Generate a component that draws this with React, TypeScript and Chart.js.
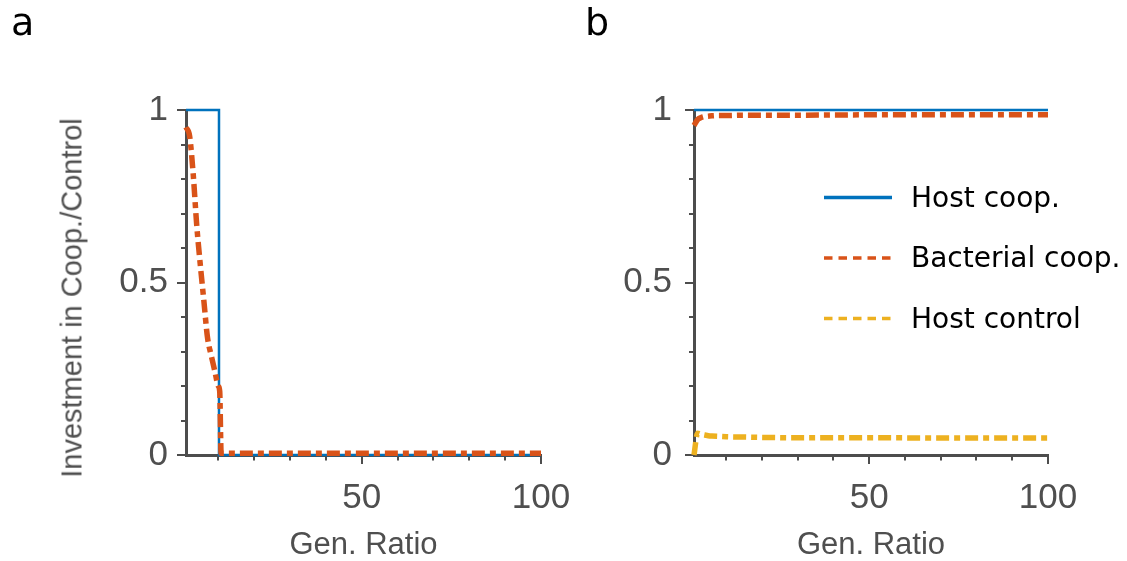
import { useEffect, useRef } from "react";
import { Chart, registerables } from "chart.js";

Chart.register(...registerables);

// Axis ticks and which of them carry a label
const GEN_TICKS = [10, 20, 30, 40, 50, 60, 70, 80, 90, 100];
const GEN_LABELS = [50, 100];
const INVEST_TICKS = [0, 0.1, 0.2, 0.3, 0.4, 0.5, 0.6, 0.7, 0.8, 0.9, 1];
const INVEST_LABELS = [0, 0.5, 1];

const SERIES_NAMES = ["Host coop.", "Bacterial coop.", "Host control"];

// Panel a
const A_HOST_GEN = [1, 10.2, 10.2, 100];
const A_HOST_COOP = [1, 1, 0, 0];
const A_BACT_GEN = [1, 2, 3, 4, 5, 6, 7, 8, 9, 10, 10.4, 10.8, 100];
const A_BACT_COOP = [0.95, 0.925, 0.815, 0.665, 0.55, 0.445, 0.34, 0.29, 0.245, 0.2, 0.185, 0.005, 0.005];

// Panel b
const B_GEN = [1, 2, 3, 4, 5, 6, 8, 10, 15, 20, 30, 50, 75, 100];
const B_HOST_COOP = [1, 1, 1, 1, 1, 1, 1, 1, 1, 1, 1, 1, 1, 1];
const B_BACT_COOP = [0.955, 0.972, 0.978, 0.981, 0.982, 0.983, 0.984, 0.984, 0.985, 0.985, 0.985, 0.986, 0.986, 0.986];
const B_HOST_CONTROL = [0, 0.063, 0.06, 0.058, 0.056, 0.055, 0.054, 0.053, 0.052, 0.051, 0.05, 0.05, 0.049, 0.049];

const BLUE = "#0072BD";
const ORANGE = "#D95319";
const YELLOW = "#EDB120";
const AXIS_COLOR = "#4d4d4d";
const LABEL_COLOR = "#4f4f4f";
const AXIS_FONT = "'Liberation Sans', Arial, sans-serif";
const KEY_FONT = "'DejaVu Sans', Verdana, sans-serif";
const DASH_DOT = [13, 5, 6, 5];

const pts = (xs: number[], ys: number[]) => xs.map((x, i) => ({ x, y: ys[i] }));

// Short and long tick marks drawn outward from the axis lines
const tickMarks = {
  id: "tickMarks",
  beforeDatasetsDraw(chart: any) {
    const { ctx, chartArea, scales } = chart;
    const x = scales.x;
    const y = scales.y;
    ctx.save();
    ctx.strokeStyle = AXIS_COLOR;
    ctx.lineWidth = 2;
    ctx.beginPath();
    for (const t of x.ticks) {
      const px = Math.round(x.getPixelForValue(t.value));
      const len = GEN_LABELS.includes(t.value) ? 9 : 5.5;
      ctx.moveTo(px, chartArea.bottom);
      ctx.lineTo(px, chartArea.bottom + len);
    }
    for (const t of y.ticks) {
      const py = Math.round(y.getPixelForValue(t.value));
      const len = INVEST_LABELS.includes(t.value) ? 9 : 5;
      ctx.moveTo(chartArea.left, py);
      ctx.lineTo(chartArea.left - len, py);
    }
    ctx.stroke();
    ctx.restore();
  },
};

// Key drawn inside the plot area of the right panel
const seriesKey = {
  id: "seriesKey",
  afterDatasetsDraw(chart: any) {
    const { ctx, chartArea } = chart;
    chart.data.datasets.forEach((ds: any, i: number) => {
      const y = chartArea.top + 87.5 + i * 60.5;
      const x0 = chartArea.left + 130;
      ctx.save();
      ctx.strokeStyle = ds.borderColor;
      ctx.lineWidth = 3.5;
      ctx.setLineDash(ds.borderDash ? [8.5, 6] : []);
      ctx.beginPath();
      ctx.moveTo(x0, y);
      ctx.lineTo(x0 + 68, y);
      ctx.stroke();
      ctx.setLineDash([]);
      ctx.fillStyle = "#000";
      ctx.font = `28px ${KEY_FONT}`;
      ctx.textBaseline = "alphabetic";
      ctx.textAlign = "left";
      ctx.fillText(ds.label, x0 + 87, y + 9);
      ctx.restore();
    });
  },
};

function buildConfig(datasets: any[], yAxisWidth: number, rightPad: number, yLabelPad: number, withKey: boolean) {
  return {
    type: "line",
    data: { datasets },
    plugins: withKey ? [tickMarks, seriesKey] : [tickMarks],
    options: {
      responsive: false,
      maintainAspectRatio: false,
      animation: false,
      events: [],
      layout: { padding: { left: 0, top: 110, right: rightPad, bottom: 0 } },
      plugins: { legend: { display: false }, tooltip: { enabled: false } },
      elements: { point: { radius: 0 } },
      scales: {
        x: {
          type: "linear",
          min: 1,
          max: 100,
          grid: { display: false, drawTicks: false },
          border: { display: true, color: AXIS_COLOR, width: 3 },
          afterBuildTicks: (s: any) => {
            s.ticks = GEN_TICKS.map((v) => ({ value: v }));
          },
          ticks: {
            autoSkip: false,
            maxRotation: 0,
            padding: 22,
            color: LABEL_COLOR,
            font: { family: AXIS_FONT, size: 35 },
            callback: (v: number) => (GEN_LABELS.includes(v) ? String(v) : ""),
          },
          title: {
            display: true,
            text: "Gen. Ratio",
            color: LABEL_COLOR,
            font: { family: AXIS_FONT, size: 31, lineHeight: 1 },
            padding: 0,
          },
          afterFit: (s: any) => {
            s.height = 106;
            s.paddingLeft = 0;
            s.paddingRight = 0;
          },
        },
        y: {
          type: "linear",
          min: 0,
          max: 1,
          grid: { display: false, drawTicks: false },
          border: { display: true, color: AXIS_COLOR, width: 3 },
          afterBuildTicks: (s: any) => {
            s.ticks = INVEST_TICKS.map((v) => ({ value: v }));
          },
          ticks: {
            autoSkip: false,
            padding: yLabelPad,
            color: LABEL_COLOR,
            font: { family: AXIS_FONT, size: 35 },
            callback: (v: number) => (INVEST_LABELS.includes(v) ? String(v) : ""),
          },
          afterFit: (s: any) => {
            s.width = yAxisWidth;
            s.paddingTop = 0;
            s.paddingBottom = 0;
          },
        },
      },
    },
  } as any;
}

export default function App() {
  const refA = useRef<HTMLCanvasElement>(null);
  const refB = useRef<HTMLCanvasElement>(null);

  useEffect(() => {
    const chartA = new Chart(
      refA.current!,
      buildConfig(
        [
          {
            label: SERIES_NAMES[0],
            data: pts(A_HOST_GEN, A_HOST_COOP),
            borderColor: BLUE,
            borderWidth: 2.5,
            tension: 0,
            clip: false,
            order: 1,
          },
          {
            label: SERIES_NAMES[1],
            data: pts(A_BACT_GEN, A_BACT_COOP),
            borderColor: ORANGE,
            borderWidth: 5.5,
            borderDash: DASH_DOT,
            cubicInterpolationMode: "monotone",
            clip: false,
            order: 0,
          },
        ],
        186,
        79,
        18,
        false
      )
    );
    const chartB = new Chart(
      refB.current!,
      buildConfig(
        [
          {
            label: SERIES_NAMES[0],
            data: pts(B_GEN, B_HOST_COOP),
            borderColor: BLUE,
            borderWidth: 2.5,
            tension: 0,
            clip: false,
            order: 2,
          },
          {
            label: SERIES_NAMES[1],
            data: pts(B_GEN, B_BACT_COOP),
            borderColor: ORANGE,
            borderWidth: 5.5,
            borderDash: DASH_DOT,
            cubicInterpolationMode: "monotone",
            clip: false,
            order: 1,
          },
          {
            label: SERIES_NAMES[2],
            data: pts(B_GEN, B_HOST_CONTROL),
            borderColor: YELLOW,
            borderWidth: 5.5,
            borderDash: DASH_DOT,
            cubicInterpolationMode: "monotone",
            clip: false,
            order: 0,
          },
        ],
        131,
        79,
        22,
        true
      )
    );
    return () => {
      chartA.destroy();
      chartB.destroy();
    };
  }, []);

  const letter = {
    position: "absolute" as const,
    top: 3,
    fontFamily: KEY_FONT,
    fontSize: 38,
    lineHeight: 1,
    color: "#000",
  };

  return (
    <div style={{ position: "fixed", left: 0, top: 0, width: 1127, height: 561, background: "#fff", overflow: "hidden" }}>
      <canvas ref={refA} width={620} height={561} style={{ position: "absolute", left: 0, top: 0 }} />
      <canvas ref={refB} width={564} height={561} style={{ position: "absolute", left: 563, top: 0 }} />
      <div style={{ ...letter, left: 11 }}>a</div>
      <div style={{ ...letter, left: 585 }}>b</div>
      <div
        style={{
          position: "absolute",
          left: 71.5,
          top: 297.5,
          transform: "translate(-50%, -50%) rotate(-90deg)",
          whiteSpace: "nowrap",
          fontFamily: AXIS_FONT,
          fontSize: 29,
          lineHeight: 1,
          color: LABEL_COLOR,
        }}
      >
        Investment in Coop./Control
      </div>
    </div>
  );
}
